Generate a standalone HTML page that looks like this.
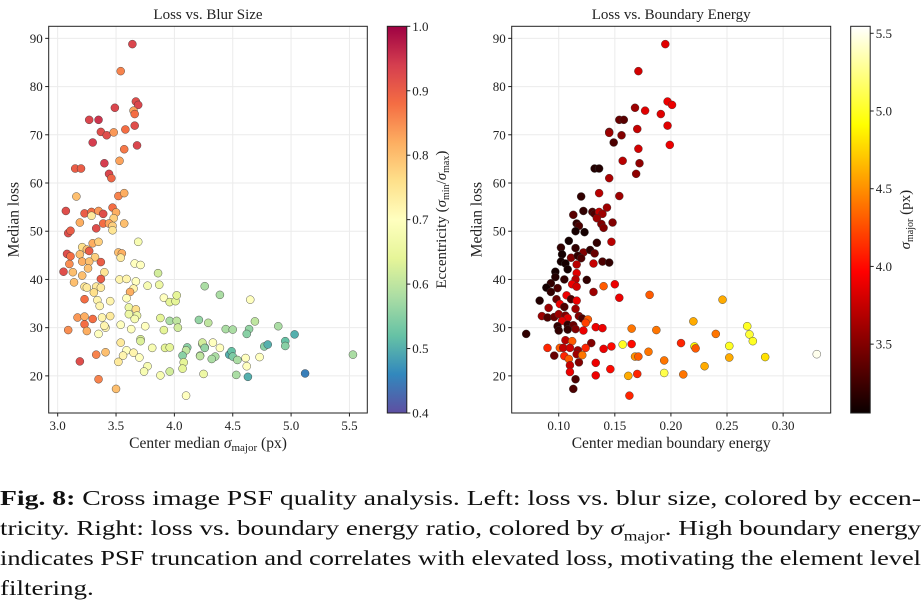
<!DOCTYPE html>
<html><head><meta charset="utf-8">
<style>
body{margin:0;background:#fff;width:923px;height:609px;overflow:hidden;font-family:"Liberation Serif",serif;}
svg text{font-family:"Liberation Serif",serif;fill:#222;}
.cap{position:absolute;left:0;font-size:21.5px;line-height:30px;color:#111;white-space:nowrap;transform-origin:0 0;}
</style></head><body>
<svg id="fig" width="923" height="470" style="position:absolute;left:0;top:0">
<defs>
<linearGradient id="gSpec" x1="0" y1="1" x2="0" y2="0">
<stop offset="0" stop-color="#5e4fa2"/><stop offset="0.1" stop-color="#3288bd"/><stop offset="0.2" stop-color="#66c2a5"/><stop offset="0.3" stop-color="#abdda4"/><stop offset="0.4" stop-color="#e6f598"/><stop offset="0.5" stop-color="#ffffbf"/><stop offset="0.6" stop-color="#fee08b"/><stop offset="0.7" stop-color="#fdae61"/><stop offset="0.8" stop-color="#f46d43"/><stop offset="0.9" stop-color="#d53e4f"/><stop offset="1" stop-color="#9e0142"/>
</linearGradient>
<linearGradient id="gHot" x1="0" y1="1" x2="0" y2="0">
<stop offset="0" stop-color="#0b0000"/><stop offset="0.365" stop-color="#ff0000"/><stop offset="0.746" stop-color="#ffff00"/><stop offset="1" stop-color="#ffffff"/>
</linearGradient>
</defs>
</svg>
<div class="cap" id="c1" style="top:483px"><b>Fig. 8:</b> Cross image PSF quality analysis. Left: loss vs. blur size, colored by eccen-</div>
<div class="cap" id="c2" style="top:513px">tricity. Right: loss vs. boundary energy ratio, colored by <i>σ</i><sub style="font-size:14px">major</sub>. High boundary energy</div>
<div class="cap" id="c3" style="top:543px">indicates PSF truncation and correlates with elevated loss, motivating the element level</div>
<div class="cap" id="c4" style="top:573px">filtering.</div>
<script>
const L_sigma=[3.64,3.54,3.67,3.69,3.65,3.66,3.49,3.27,3.35,3.37,3.42,3.48,3.58,3.66,3.30,3.57,3.68,3.15,3.20,3.40,3.53,3.44,3.46,3.16,3.52,3.57,3.07,3.23,3.29,3.35,3.39,3.47,3.50,3.29,3.48,3.19,3.33,3.39,3.44,3.47,3.47,3.57,3.09,3.11,3.21,3.30,3.35,3.25,3.27,3.69,3.08,3.11,3.19,3.32,3.52,3.55,3.54,3.21,3.27,3.37,3.10,3.26,3.66,3.71,3.05,3.13,3.40,3.21,3.37,3.86,3.14,3.23,3.25,3.33,3.37,3.31,3.53,3.59,3.67,3.77,3.87,3.65,3.62,4.26,3.23,3.34,3.45,3.59,3.91,3.96,4.01,4.02,3.36,3.61,3.67,3.61,3.68,3.66,3.17,3.23,3.30,3.38,3.45,3.23,3.25,3.09,3.41,3.40,3.35,3.54,3.63,3.75,3.88,3.91,3.96,4.02,4.03,4.21,3.54,3.71,3.71,3.59,3.65,3.56,3.70,3.81,3.92,3.96,4.11,4.10,4.07,4.22,4.24,4.26,3.33,3.41,3.19,3.52,4.08,4.07,3.77,3.74,3.88,3.96,4.25,3.35,3.50,4.10,4.39,4.65,4.29,4.44,4.50,4.64,4.62,4.69,4.89,5.03,4.24,4.26,4.33,4.39,4.22,4.35,4.32,4.47,4.49,4.50,4.54,4.61,4.73,4.77,4.80,4.95,4.95,5.53,4.53,4.62,4.63,5.12];
const L_loss=[88.8,83.2,76.9,76.2,75.0,74.3,75.6,73.1,73.1,70.6,69.9,70.5,71.1,71.9,68.4,67.0,67.8,63.0,63.0,64.1,64.6,61.9,61.0,57.2,57.3,57.9,54.2,53.7,54.0,54.2,53.6,54.9,53.9,53.2,52.7,51.8,50.6,51.6,51.6,51.1,50.2,51.6,49.6,50.1,46.7,47.5,47.8,46.2,45.9,47.8,45.3,44.8,45.2,44.6,45.6,45.4,44.5,43.7,43.7,43.6,43.2,42.3,43.3,43.0,41.6,41.5,41.5,40.8,40.1,41.3,39.4,38.5,38.3,38.5,38.3,37.3,40.0,40.1,39.6,38.7,38.9,38.1,37.4,38.6,35.9,35.7,35.5,36.1,36.2,35.3,35.5,36.7,34.5,34.2,33.8,32.8,32.5,31.8,32.1,32.3,31.8,32.1,32.4,30.7,29.3,29.5,30.0,30.4,28.7,30.6,29.7,30.3,32.0,29.5,31.4,31.4,30.0,31.6,26.9,27.6,27.2,25.3,24.8,24.2,23.8,25.8,25.8,25.9,25.9,25.3,24.2,24.2,26.6,25.9,24.4,24.9,23.0,22.9,22.8,21.5,22.0,20.9,20.1,20.9,20.4,19.3,17.3,15.9,36.8,35.8,31.0,29.7,29.6,29.7,28.7,31.3,30.3,28.6,26.9,25.8,26.9,25.8,24.1,24.0,23.5,24.4,25.1,24.0,23.3,23.7,23.9,26.1,26.5,27.2,26.2,24.4,20.2,22.0,19.8,20.5];
const L_ecc=[.93,.86,.92,.93,.83,.88,.93,.93,.95,.92,.92,.84,.88,.92,.94,.87,.93,.9,.9,.94,.83,.93,.89,.8,.86,.82,.92,.9,.88,.84,.92,.88,.82,.74,.78,.82,.92,.88,.83,.78,.75,.8,.92,.9,.76,.82,.78,.8,.9,.68,.92,.88,.8,.78,.8,.82,.74,.82,.8,.9,.85,.8,.7,.7,.92,.8,.75,.8,.9,.62,.8,.75,.74,.74,.74,.76,.72,.72,.7,.68,.66,.72,.82,.58,.88,.72,.72,.7,.7,.64,.64,.64,.72,.66,.76,.66,.66,.68,.84,.82,.88,.72,.74,.88,.82,.85,.72,.72,.7,.7,.7,.7,.64,.64,.58,.6,.62,.56,.74,.63,.63,.7,.72,.72,.7,.68,.64,.64,.55,.6,.55,.56,.58,.56,.86,.8,.92,.74,.64,.64,.68,.68,.68,.62,.66,.86,.8,.7,.58,.7,.6,.58,.58,.56,.55,.6,.58,.5,.62,.56,.7,.7,.6,.58,.58,.5,.52,.54,.58,.7,.7,.55,.5,.52,.55,.58,.58,.7,.5,.45];

const R_energy=[0.195,0.171,0.197,0.201,0.168,0.177,0.191,0.154,0.158,0.197,0.145,0.145,0.156,0.170,0.149,0.171,0.199,0.132,0.136,0.157,0.172,0.169,0.145,0.120,0.136,0.154,0.113,0.122,0.130,0.132,0.136,0.139,0.143,0.134,0.116,0.118,0.115,0.123,0.138,0.140,0.148,0.109,0.134,0.147,0.102,0.115,0.122,0.128,0.132,0.103,0.111,0.117,0.120,0.102,0.106,0.116,0.131,0.139,0.145,0.108,0.097,0.116,0.097,0.105,0.115,0.125,0.112,0.116,0.140,0.150,0.093,0.089,0.099,0.093,0.131,0.154,0.107,0.083,0.098,0.111,0.116,0.101,0.105,0.091,0.115,0.085,0.090,0.096,0.100,0.106,0.108,0.118,0.103,0.121,0.126,0.124,0.108,0.099,0.113,0.071,0.100,0.108,0.115,0.122,0.133,0.139,0.165,0.106,0.112,0.090,0.101,0.104,0.110,0.117,0.129,0.124,0.105,0.109,0.116,0.121,0.096,0.118,0.110,0.110,0.133,0.140,0.147,0.157,0.165,0.146,0.133,0.162,0.115,0.113,0.163,0.181,0.246,0.220,0.268,0.270,0.273,0.187,0.240,0.209,0.221,0.222,0.252,0.168,0.171,0.180,0.194,0.252,0.284,0.230,0.330,0.170,0.194,0.211];
const R_loss=[88.8,83.2,76.9,76.2,75.6,75.0,74.3,73.1,73.1,71.9,70.6,70.4,69.9,71.2,68.4,67.1,67.9,63.0,63.0,64.6,64.1,61.9,61.0,57.2,57.9,57.3,53.4,54.2,54.0,53.6,54.0,53.6,54.9,52.7,51.6,51.1,50.0,49.8,51.5,50.7,51.8,48.0,47.6,47.8,46.6,46.5,45.6,46.1,45.4,45.2,44.5,44.9,44.4,43.7,43.3,43.1,43.3,43.7,43.5,42.1,41.6,41.3,40.5,40.0,40.0,39.9,39.0,38.5,38.6,39.0,39.2,38.3,38.2,37.4,37.4,36.2,36.7,35.6,35.9,35.9,35.6,34.9,34.3,34.1,33.9,32.4,32.1,32.2,32.8,32.5,32.0,32.4,31.4,31.9,31.7,31.0,30.6,30.3,30.5,28.7,29.4,29.6,29.7,29.4,30.1,29.9,29.8,27.4,27.2,25.8,25.8,25.8,25.8,25.3,26.8,25.8,24.1,23.5,24.5,24.3,24.2,22.8,22.2,20.8,22.7,25.6,26.1,26.5,26.6,21.4,20.1,20.0,19.3,17.3,15.9,36.8,35.8,31.3,30.3,28.6,27.2,29.5,28.7,26.8,26.1,25.7,26.2,24.0,24.0,25.0,23.2,23.8,23.9,22.0,24.5,20.4,20.6,20.3];
const R_sigma=[3.85,3.8,3.9,3.9,3.6,3.85,3.85,3.4,3.35,3.85,3.5,3.6,3.5,3.75,3.3,3.8,3.9,3.15,3.15,3.7,3.55,3.55,3.65,3.2,3.7,3.6,3.35,3.2,3.3,3.3,3.75,3.6,3.6,3.6,3.2,3.3,3.1,3.1,3.5,3.5,3.5,3.1,3.2,3.7,3.2,3.2,3.5,3.2,3.4,3.1,3.5,3.2,3.3,3.1,3.1,3.7,3.75,3.3,3.2,3.1,3.1,3.85,3.15,3.2,3.7,3.2,3.9,3.8,4.3,3.9,3.2,3.1,3.3,3.2,3.6,3.9,3.9,3.15,3.4,3.3,3.9,3.9,3.3,3.6,3.6,3.6,3.3,3.4,3.6,3.5,3.85,3.5,3.85,3.3,4.3,4.2,3.2,3.2,3.4,3.2,3.2,3.2,3.5,3.9,3.9,3.9,4.4,3.7,4.3,4.1,4.3,3.75,3.8,3.6,3.5,4.1,4.1,4.3,3.6,4.4,3.4,3.5,3.75,3.9,3.9,3.9,4.0,5.0,4.0,4.0,3.9,4.6,3.3,3.3,4.1,4.3,4.6,4.6,5.0,5.05,5.0,4.4,4.4,4.1,4.9,4.3,5.0,4.5,4.3,4.4,4.4,4.6,4.8,4.6,5.5,4.1,5.1,4.4];

const L_xticks=[3.0,3.5,4.0,4.5,5.0,5.5];
const R_xticks=[0.10,0.15,0.20,0.25,0.30];
const yticks=[20,30,40,50,60,70,80,90];
const L_cticks=[0.4,0.5,0.6,0.7,0.8,0.9,1.0];
const R_cticks=[3.5,4.0,4.5,5.0,5.5];

const NS='http://www.w3.org/2000/svg';
const svg=document.getElementById('fig');
function mk(tag,attrs,parent){const e=document.createElementNS(NS,tag);for(const k in attrs)e.setAttribute(k,attrs[k]);(parent||svg).appendChild(e);return e;}
function lerp(a,b,t){return a+(b-a)*t;}
const specStops=[[94,79,162],[50,136,189],[102,194,165],[171,221,164],[230,245,152],[255,255,191],[254,224,139],[253,174,97],[244,109,67],[213,62,79],[158,1,66]];
function spectral(t){t=Math.max(0,Math.min(1,t));const p=t*10,i=Math.min(9,Math.floor(p)),f=p-i;const a=specStops[i],b=specStops[i+1];return `rgb(${Math.round(lerp(a[0],b[0],f))},${Math.round(lerp(a[1],b[1],f))},${Math.round(lerp(a[2],b[2],f))})`;}
function hot(t){t=Math.max(0,Math.min(1,t));let r,g,b;if(t<0.365){r=0.04+0.96*t/0.365;g=0;b=0;}else if(t<0.746){r=1;g=(t-0.365)/0.381;b=0;}else{r=1;g=1;b=(t-0.746)/0.254;}return `rgb(${Math.round(r*255)},${Math.round(g*255)},${Math.round(b*255)})`;}

const yTop=26.3,yBot=413;
const ymin=12.3,ymax=92.5;
function yScale(v){return yBot-(v-ymin)/(ymax-ymin)*(yBot-yTop);}

function panel(opt){
  const g=mk('g',{});
  
  
  const xs=v=>opt.x0+(v-opt.xmin)/(opt.xmax-opt.xmin)*(opt.x1-opt.x0);
  opt.xticks.forEach(t=>{const x=xs(t);mk('line',{x1:x,x2:x,y1:yTop,y2:yBot,stroke:'#ebebeb','stroke-width':1},g);});
  yticks.forEach(t=>{const y=yScale(t);mk('line',{x1:opt.x0,x2:opt.x1,y1:y,y2:y,stroke:'#ebebeb','stroke-width':1},g);});
  const pg=mk('g',{},g);
  
  
  for(let i=0;i<opt.xs.length;i++){
    const c=mk('circle',{cx:xs(opt.xs[i]),cy:yScale(opt.ys[i]),r:4,fill:opt.color(opt.cs[i]),stroke:'#333','stroke-width':0.5,'stroke-opacity':0.8},pg);
    
    
  }
  const fr=mk('rect',{x:opt.x0,y:yTop,width:opt.x1-opt.x0,height:yBot-yTop,fill:'none',stroke:'#222','stroke-width':1},g);
  
  
  opt.xticks.forEach(t=>{const x=xs(t);mk('line',{x1:x,x2:x,y1:yBot,y2:yBot+3.5,stroke:'#222'},g);
    const tx=mk('text',{x:x,y:yBot+17,'text-anchor':'middle','font-size':13},g);tx.textContent=t.toFixed(opt.xdec);
    });
  yticks.forEach(t=>{const y=yScale(t);mk('line',{x1:opt.x0-3.5,x2:opt.x0,y1:y,y2:y,stroke:'#222'},g);
    const tx=mk('text',{x:opt.x0-6,y:y+4.5,'text-anchor':'end','font-size':13},g);tx.textContent=t;
    });
  const ti=mk('text',{x:(opt.x0+opt.x1)/2,y:19,'text-anchor':'middle','font-size':15},g);ti.textContent=opt.title;
  
  const xl=mk('text',{x:(opt.x0+opt.x1)/2,y:448,'text-anchor':'middle','font-size':15.5},g);xl.innerHTML=opt.xlabel;
  
  const yl=mk('text',{x:0,y:0,'text-anchor':'middle','font-size':15.5,transform:`translate(${opt.x0-30},${(yTop+yBot)/2}) rotate(-90)`},g);yl.textContent='Median loss';
  
  const cb=mk('g',{},g);
  
  
  mk('rect',{x:opt.cbx,y:yTop,width:19.5,height:yBot-yTop,fill:opt.grad,stroke:'#222','stroke-width':1},cb);
  const cs=v=>yBot-(v-opt.cmin)/(opt.cmax-opt.cmin)*(yBot-yTop);
  opt.cticks.forEach(t=>{const y=cs(t);mk('line',{x1:opt.cbx+19.5,x2:opt.cbx+23,y1:y,y2:y,stroke:'#222'},cb);
    const tx=mk('text',{x:opt.cbx+25,y:y+4.5,'font-size':13},cb);tx.textContent=t.toFixed(1);
    });
  const cl=mk('text',{x:0,y:0,'text-anchor':'middle','font-size':15,transform:`translate(${opt.cblx},${(yTop+yBot)/2}) rotate(-90)`},cb);cl.innerHTML=opt.clabel;
  
}

panel({name:'blur-size-chart',x0:48.7,x1:367.3,xmin:2.923,xmax:5.653,xs:L_sigma,ys:L_loss,cs:L_ecc,
  color:v=>spectral((v-0.4)/0.6),xticks:L_xticks,xdec:1,title:'Loss vs. Blur Size',
  xlabel:'Center median <tspan font-style="italic">σ</tspan><tspan font-size="11" dy="3">major</tspan><tspan dy="-3"> (px)</tspan>',
  cbx:387.3,grad:'url(#gSpec)',cmin:0.4,cmax:1.0,cticks:L_cticks,cblx:446,
  clabel:'Eccentricity (<tspan font-style="italic">σ</tspan><tspan font-size="10" dy="3">min</tspan><tspan dy="-3">/</tspan><tspan font-style="italic">σ</tspan><tspan font-size="10" dy="3">max</tspan><tspan dy="-3">)</tspan>'});
panel({name:'boundary-energy-chart',x0:511.7,x1:830.7,xmin:0.0581,xmax:0.3424,xs:R_energy,ys:R_loss,cs:R_sigma,
  color:v=>hot((v-3.057)/(5.545-3.057)),xticks:R_xticks,xdec:2,title:'Loss vs. Boundary Energy',
  xlabel:'Center median boundary energy',
  cbx:850.7,grad:'url(#gHot)',cmin:3.057,cmax:5.545,cticks:R_cticks,cblx:910,
  clabel:'<tspan font-style="italic">σ</tspan><tspan font-size="10" dy="3">major</tspan><tspan dy="-3"> (px)</tspan>'});

// caption fit: widen glyphs horizontally to fill the line (CM-like width)
(function(){
  const target=921;let sum=0,n=0;
  ['c1','c2','c3'].forEach(id=>{
    const el=document.getElementById(id);
    const w=el.getBoundingClientRect().width;
    const s=target/w;
    el.style.transform='scaleX('+s+')';
    sum+=s;n++;
  });
  document.getElementById('c4').style.transform='scaleX('+(sum/n)+')';
})();
</script>
</body></html>
